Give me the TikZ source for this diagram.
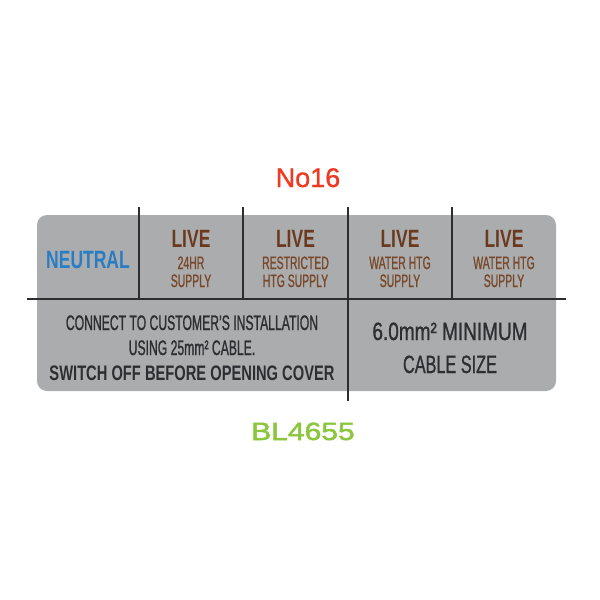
\documentclass[tikz,border=0pt]{standalone}
\usepackage{fontspec}
\setmainfont{Liberation Sans}
\newfontfamily\condrg[FakeStretch=0.58, FakeBold=0.9]{Liberation Sans}
\newfontfamily\condmd[FakeStretch=0.65, FakeBold=0.9]{Liberation Sans}
\newfontfamily\condwd[FakeStretch=0.76, FakeBold=0.9]{Liberation Sans}
\newfontfamily\condbf[FakeStretch=0.70]{Liberation Sans}
\newfontfamily\tagfont[FakeBold=1]{Liberation Sans}
\newfontfamily\codefont[FakeStretch=1.2, FakeBold=2]{Liberation Sans}
\usepackage{tikz}
\definecolor{panel}{RGB}{171, 172, 174}
\definecolor{rule}{RGB}{45, 45, 48}
\definecolor{neutral}{RGB}{40, 125, 196}
\definecolor{live}{RGB}{107, 58, 30}
\definecolor{livesub}{RGB}{120, 72, 42}
\definecolor{ink}{RGB}{45, 46, 50}
\definecolor{tag}{RGB}{238, 58, 36}
\definecolor{code}{RGB}{140, 198, 63}
\tikzset{
  lbl/.style={anchor=base, inner sep=0pt},
  head/.style={lbl, font=\condbf\bfseries\fontsize{25}{25}\selectfont},
  subline/.style={lbl, text=livesub, font=\condrg\fontsize{18}{18}\selectfont},
  note/.style={lbl, text=ink, font=\condrg\fontsize{21}{21}\selectfont},
  notebf/.style={lbl, text=ink, font=\condbf\bfseries\fontsize{21}{21}\selectfont},
  big/.style={lbl, text=ink, font=\condmd\fontsize{25}{25}\selectfont}
}

\begin{document}
\begin{tikzpicture}[x=1pt, y=-1pt, line width=1.6pt]
  \useasboundingbox (0, 0) rectangle (600, 600);
  \fill[panel, rounded corners=10pt] (37, 215) rectangle (556, 391);

  \draw[rule] (27, 299) -- (566, 299);
  \foreach \x in {139, 243, 452}
    \draw[rule] (\x, 207) -- (\x, 299);
  \draw[rule] (348, 207) -- (348, 401);

  \node[head, text=neutral] (neutral) at (88, 268) {NEUTRAL};
  \foreach \x/\lna/\lnb [count=\i] in {191/24HR/SUPPLY, 295.5/RESTRICTED/HTG SUPPLY,
                                      400/WATER HTG/SUPPLY, 504/WATER HTG/SUPPLY} {
    \node[head, text=live] (live\i) at (\x, 247) {LIVE};
    \node[subline] (kind\i) at (\x, 269) {\lna};
    \node[subline] (supply\i) at (\x, 287) {\lnb};
  }

  \node[note] (connect) at (192, 330) {CONNECT TO CUSTOMER’S INSTALLATION};
  \node[note] (using) at (192, 355) {USING 25mm² CABLE.};
  \node[notebf] (switch) at (192, 380) {SWITCH OFF BEFORE OPENING COVER};

  \node[big, font=\condwd\fontsize{25}{25}\selectfont] (minimum) at (450, 340) {6.0mm² MINIMUM};
  \node[big] (cable) at (450, 373) {CABLE SIZE};

  \node[lbl, text=tag, font=\tagfont\fontsize{27}{27}\selectfont] (number) at (308, 187) {No16};
  \node[lbl, text=code, font=\codefont\fontsize{25}{25}\selectfont] (partno) at (303, 440) {BL4655};
\end{tikzpicture}
\end{document}
